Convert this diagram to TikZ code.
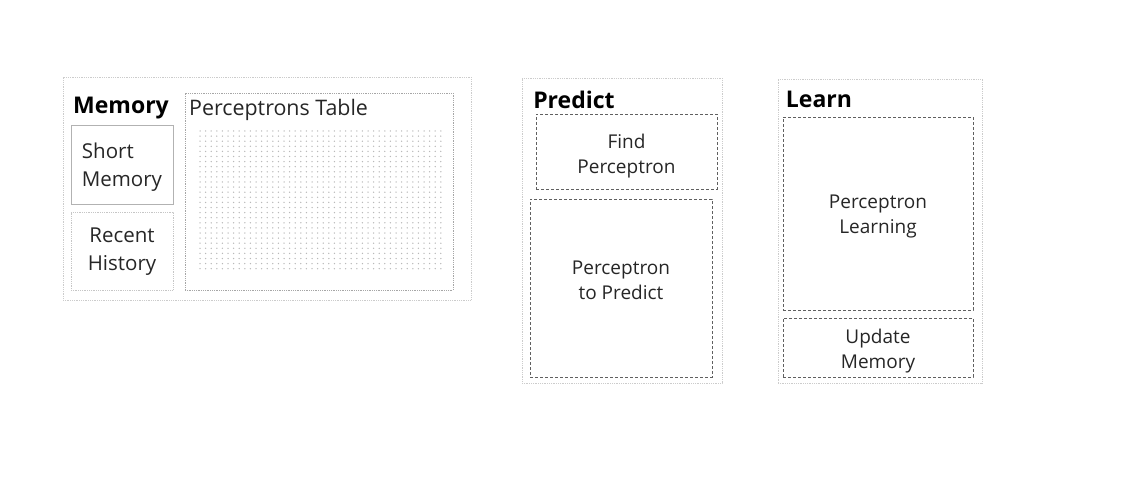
\documentclass[tikz,border=0pt]{standalone}
\usepackage{fontspec}
\setmainfont{Open Sans}
\usetikzlibrary{positioning}

\tikzset{
  outerbox/.style={draw=gray!40, densely dotted, line width=0.8pt, inner sep=0pt},
  innerbox/.style={draw=gray!75!black, densely dashed, line width=0.8pt, inner sep=0pt},
  boxtext/.style={inner sep=0pt, align=center, text=black!85, font=\fontsize{19}{25}\selectfont},
  memorybox/.style={draw=gray!60, line width=0.8pt, inner sep=0pt},
  memorytext/.style={inner sep=0pt, text=black!85, font=\fontsize{20.5}{28}\selectfont},
  heading/.style={inner sep=0pt, text=black, font=\fontsize{23}{26}\selectfont\bfseries},
  tabledot/.style={fill=gray!55}
}

\begin{document}
\begin{tikzpicture}[x=1pt, y=-1pt]
			\useasboundingbox (0,0) rectangle (1125,484);
			% memory block
			\node[outerbox, minimum width=408, minimum height=223] (memory) at (267,188.5) {};
			\node[heading] (memorytitle) at (121,108) {Memory};
			\node[memorybox, minimum width=102, minimum height=79,
				label={[memorytext, align=left, yshift=-3pt]center:{Short\\Memory}}] (short) at (122,164.5) {};
			\node[memorybox, draw=gray!45, densely dotted, minimum width=102, minimum height=78,
				label={[memorytext, align=center, yshift=-1pt]center:{Recent\\History}}] (recent) at (122,251) {};
			\node[outerbox, draw=gray!70, minimum width=268, minimum height=197] (table) at (319,191.5) {};
			\node[anchor=west, inner sep=0pt, text=black!85, font=\fontsize{21.4}{24}\selectfont] (tabletitle) at (189,110) {Perceptrons Table};
			\foreach \i in {0, ..., 43} {
				\foreach \j in {0, ..., 27} {
					\fill[tabledot] (200+\i*5.6, 131+\j*5.1) circle (0.75);
				};
			};
			% predict block
			\node[outerbox, minimum width=200, minimum height=305] (predict) at (622,230.5) {};
			\node[heading] (predicttitle) at (574,100) {Predict};
			\node[innerbox, minimum width=181, minimum height=75,
				label={[boxtext, yshift=-5pt]center:{Find\\Perceptron}}] (find) at (626.5,151.5) {};
			\node[innerbox, minimum width=182, minimum height=178,
				label={[boxtext, yshift=8pt]center:{Perceptron\\to Predict}}] (topredict) at (621,288) {};
			% learn block
			\node[outerbox, minimum width=204, minimum height=304] (learn) at (880,231) {};
			\node[heading] (learntitle) at (819,99) {Learn};
			\node[innerbox, minimum width=190, minimum height=193,
				label={[boxtext, yshift=-3pt]center:{Perceptron\\Learning}}] (learning) at (878,213.5) {};
			\node[innerbox, minimum width=190, minimum height=59,
				label={[boxtext, yshift=-4pt]center:{Update\\Memory}}] (update) at (878,347.5) {};
		\end{tikzpicture}
\end{document}
